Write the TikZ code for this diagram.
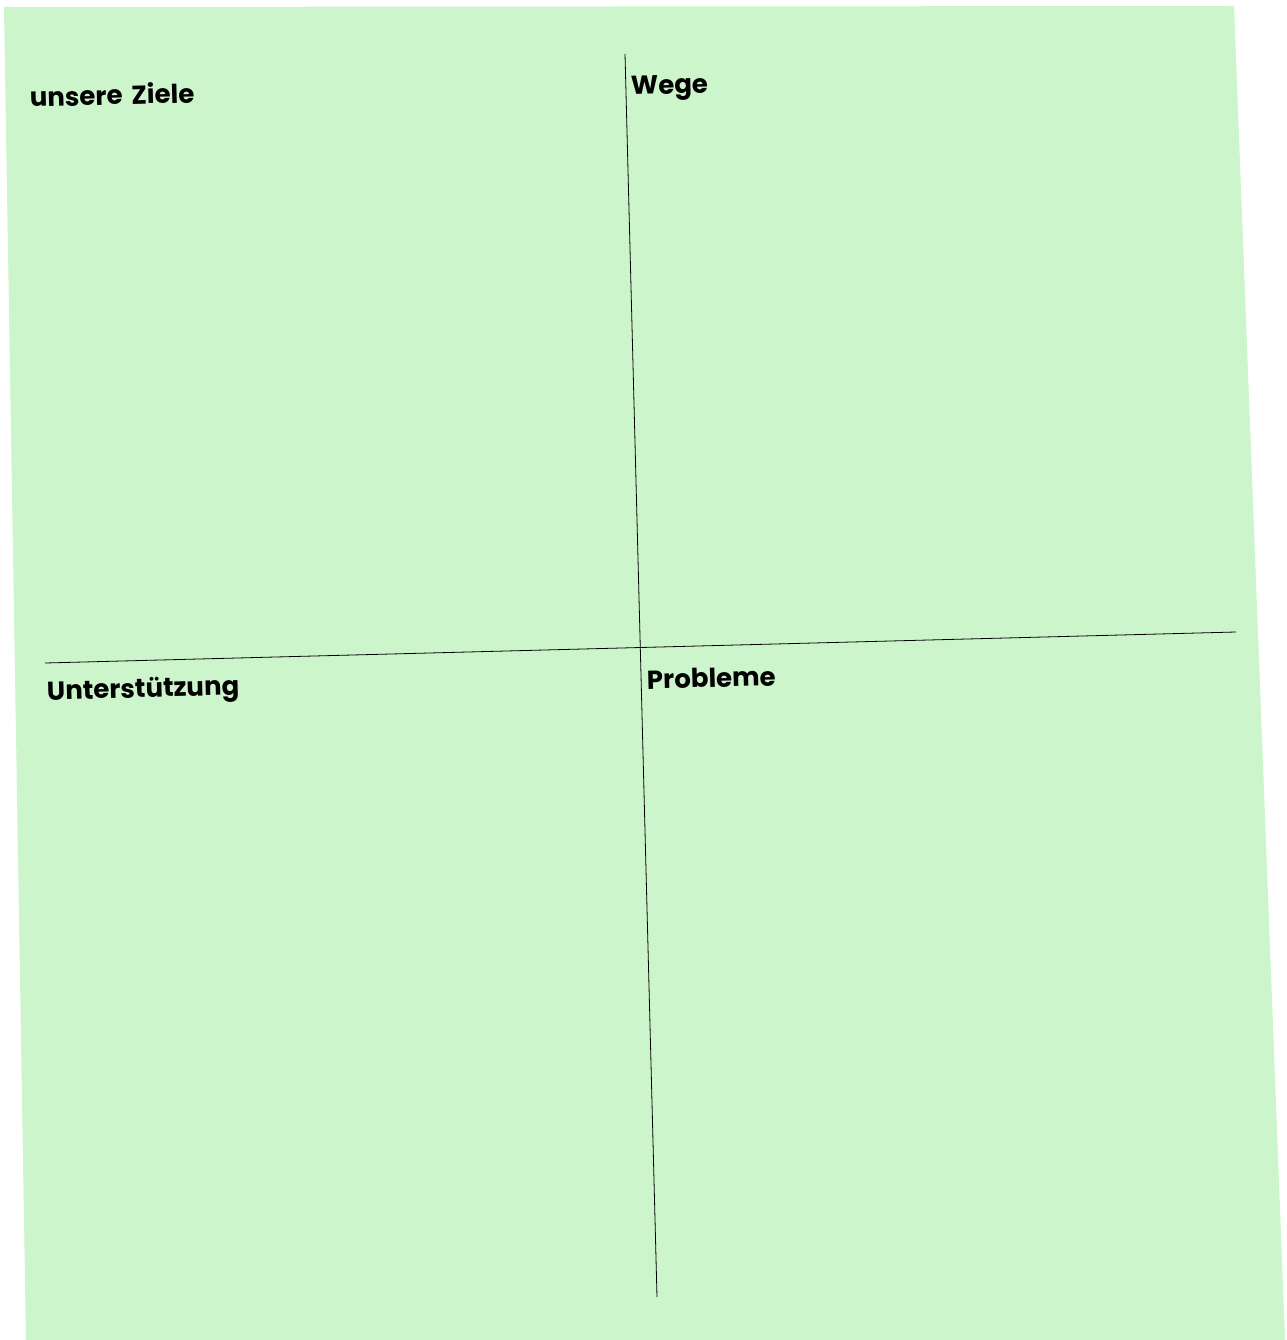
\documentclass[tikz,border=0pt]{standalone}
\usepackage{fontspec}
\setmainfont{Poppins}[WordSpace = 1.6]

\definecolor{sheet}{RGB}{204,245,204}

\begin{document}
\begin{tikzpicture}[x = 1pt, y = -1pt,
	heading/.style = {anchor = base west, inner sep = 0pt, rotate = 1.5, font = \fontsize{26}{30}\selectfont\bfseries}]

	% Definitions

	\def\W{1286}	% Page width
	\def\H{1340}	% Page height

	\useasboundingbox (0, 0) rectangle (\W, \H);

	% Sheet of paper

	\fill [sheet] (4, 7) -- (1234, 6) -- (1285, \H) -- (26, \H) -- cycle;

	% Dividing lines

	\coordinate (top) at (625, 54);
	\coordinate (bottom) at (657, 1297);
	\coordinate (left) at (45, 663);
	\coordinate (right) at (1236, 632);

	\draw [line width = 0.8 pt] (top) -- (bottom);
	\draw [line width = 0.8 pt] (left) -- (right);

	% Quadrant headings

	\node [heading] (ziele) at (30, 107) {unsere Ziele};
	\node [heading] (wege) at (631, 95) {Wege};
	\node [heading] (hilfe) at (47, 700) {Unterstützung};
	\node [heading] (probleme) at (647, 689) {Probleme};

\end{tikzpicture}
\end{document}
